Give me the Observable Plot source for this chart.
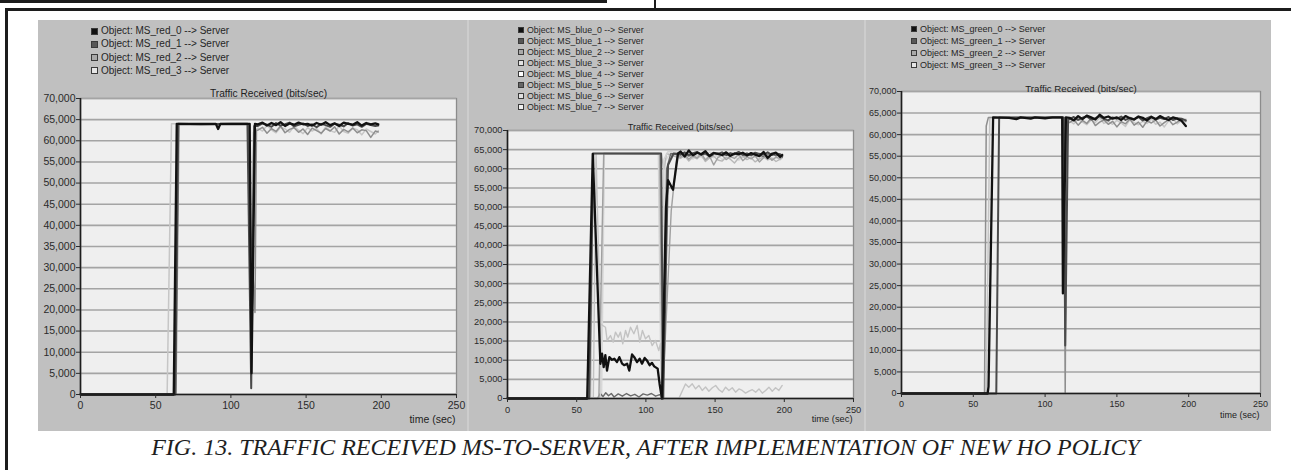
<!DOCTYPE html>
<html>
<head>
<meta charset="utf-8">
<script src="https://cdn.jsdelivr.net/npm/d3@7"></script>
<script src="https://cdn.jsdelivr.net/npm/@observablehq/plot@0.6"></script>
<style>
  body { margin: 0; background: #fff; }
  #page { position: relative; width: 1291px; height: 470px; overflow: hidden; background: #fff;
          font-family: "Liberation Sans", Arial, sans-serif; }
  .rule { position: absolute; background: #1c1c1c; }
  .strip { position: absolute; left: 38px; top: 20px; width: 1233px; height: 411px; background: #cdcdcd; }
  .panel { position: absolute; top: 20px; height: 411px; background: #c0c0c0; }
  .panel svg { display: block; overflow: visible; }
  .legend { position: absolute; color: #262626; white-space: nowrap; }
  .legend .row { position: absolute; left: 0; display: flex; align-items: center; }
  .legend .sw { display: inline-block; box-sizing: border-box; border: 1px solid #3a3a3a; }
  #caption { position: absolute; left: 0; top: 434px; width: 1291px; text-align: center;
             font-family: "Liberation Serif", "Times New Roman", serif; font-style: italic;
             font-size: 24px; color: #1e1e1e; }
</style>
</head>
<body>
<div id="page">
  <div class="rule" style="left:0;top:0;width:607px;height:3px"></div>
  <div class="rule" style="left:654px;top:0;width:2px;height:10px"></div>
  <div class="rule" style="left:5px;top:8px;width:1286px;height:2.5px"></div>
  <div class="rule" style="left:5px;top:8px;width:2.5px;height:462px"></div>
  <div class="strip"></div>
  <div id="caption">FIG. 13. TRAFFIC RECEIVED MS-TO-SERVER, AFTER IMPLEMENTATION OF NEW HO POLICY</div>
</div>
<script>
// ---- shared axis ticks ----
const timeTicks = [0, 50, 100, 150, 200, 250];
const rateTicks = [0, 5000, 10000, 15000, 20000, 25000, 30000, 35000, 40000, 45000, 50000, 55000, 60000, 65000, 70000];
const chartTitle = "Traffic Received (bits/sec)";
const timeLabel = "time (sec)";

// ---- red cell: MS_red_0..3 -> Server ----
const redNames = ["Object: MS_red_0 --> Server", "Object: MS_red_1 --> Server",
                  "Object: MS_red_2 --> Server", "Object: MS_red_3 --> Server"];
const red0Head = [[0,0],[62,0],[64,64000],[75,64000],[90,64000],[91.5,62800],[93,64000],[105,64000],[112.5,64000],[113.7,5000],[116,64000]];
const red1Head = [[0,0],[63,0],[65,64000],[80,63900],[100,64000],[111,64000],[113.5,1500],[115.5,63500]];
const red2Head = [[0,0],[63.5,0],[65.5,63800],[111.5,63800],[113,40000],[116,19400],[117,62500]];
const red3Head = [[0,0],[57.6,0],[60.5,64000],[112,64000],[113.5,30000],[115,62000]];
const redTailTime = [118,121,124,127,130,133,136,139,142,145,148,151,154,157,160,163,166,169,172,175,178,181,184,187,190,193,196,198];
const red0Tail = [63900,64300,63600,64200,63700,64400,63500,64100,63800,64300,63900,64000,63600,64200,63800,64400,63700,64100,63500,64300,64000,63800,64400,63600,64200,63900,64100,63900];
const red1Tail = [63500,64100,63800,63300,64200,63600,63900,64300,63400,63800,64100,63500,63900,63200,64000,63700,63300,64100,63800,63400,64200,63600,63900,63300,64000,63700,63500,63600];
const red2Tail = [62500,63200,61800,62900,62200,63500,61900,62700,63100,62000,62800,61500,63000,62400,61800,62900,62300,63300,61600,62700,62100,63000,61900,62600,62400,60800,62300,62100];
const red3Tail = [63000,62300,63600,62600,61900,63200,62800,62000,63400,62500,61700,63100,62300,62900,61600,63300,62400,62000,63500,62200,61800,63000,62600,61400,62800,62200,61600,62400];

// ---- blue cell: MS_blue_0..7 -> Server ----
const blueNames = ["Object: MS_blue_0 --> Server", "Object: MS_blue_1 --> Server", "Object: MS_blue_2 --> Server",
                   "Object: MS_blue_3 --> Server", "Object: MS_blue_4 --> Server", "Object: MS_blue_5 --> Server",
                   "Object: MS_blue_6 --> Server", "Object: MS_blue_7 --> Server"];
const blue0Head = [[0,0],[57.6,0],[61.6,63900],[67.1,9060],[68.3,11700],[69.5,8200],[70.7,11300],[71.9,7300],[73.6,10800],[75.5,10100],[77.2,10400],[79.1,9500],[80.8,10800],[82.8,9100],[84.4,8700],[86.4,9100],[88,7300],[90,11500],[91.6,10800],[93.6,9500],[95.5,10400],[97.2,9100],[99.1,10600],[100.8,9900],[102.7,8700],[104.4,9300],[106,8400],[108.5,7800],[109.9,3800],[111.6,0],[114.5,50000],[116,57000],[119.6,54500],[123.2,64000]];
const blue1Head = [[0,0],[59,0],[62,64000],[111,64000],[112.5,0],[116,61000],[120,64000]];
const blue2Head = [[0,0],[66,0],[69.5,64000],[110,63800],[112,0],[118.3,49000],[122.5,63600]];
const blue3Head = [[0,0],[62,0],[64,64000],[67,19500],[70.8,18600],[72,15150],[74.4,16450],[76.4,14710],[78,17330],[80,16020],[81.6,17330],[83.3,14280],[85.3,17760],[86.9,16020],[88.9,18600],[91.3,16900],[93.7,19070],[95.6,14710],[97.5,17760],[99.7,15580],[102.1,16450],[104.5,13840],[106.9,15150],[109.3,12540],[110.5,14280],[112.9,0]];
const blue4Head = [[0,0],[67,0],[70,64200],[109,64200],[111,0],[113,62500],[116,64500]];
const blue5Head = [[0,0],[65,0],[67,1300],[69,500],[71,1500],[73,700],[75,1300],[77,400],[80,1200],[83,600],[86,1300],[89,700],[92,1100],[95,400],[98,1200],[101,900],[104,1300],[107,600],[110,1000],[112,0],[115,60000],[118,64000]];
const blue6Head = [[0,0],[60,0],[62,64000],[111,64000],[113,60000],[115,64000]];
const blue7Head = [[0,0],[68,0],[70,64000],[110,64000],[112,0],[114,62000],[117,63800]];
const blueTailTime = [125,128,131,134,137,140,143,146,149,152,155,158,161,164,167,170,173,176,179,182,185,188,191,194,197,198.5];
const blue0Tail = [64500,63200,64800,63500,64200,63800,64600,63300,64100,63900,63600,64300,63400,64000,63800,64200,63500,64100,63700,63300,64400,62800,63900,64200,63100,63600];
const blue1Tail = [63800,64300,63600,64100,64400,63700,64000,63500,64200,63900,64300,63600,64100,63800,64400,63700,64000,63500,64200,63900,63700,64300,63600,64000,63800,63300];
const blue2Tail = [63000,63900,62500,63500,62800,64000,62300,63300,61000,62900,63600,62400,63200,62700,63800,62100,63100,62600,63400,61800,62900,63500,62200,63000,62700,63300];
const blue4Tail = [64200,63500,64600,63800,63300,64100,63600,64400,63900,63200,63800,64300,63500,64000,63300,63900,64200,63600,63000,63800,64100,63400,63700,64300,63500,63900];
const blue5Tail = [63600,64000,63300,63800,64200,63500,63900,63100,63700,64100,63400,63800,63200,63900,64100,63500,63300,63800,64000,63600,63200,63700,64000,63400,63600,63000];
const blue6Tail = [62700,63400,62000,63100,62600,63600,61900,62800,63300,62300,62000,63000,62500,61500,62800,63200,62400,62900,61800,62600,63100,62300,62800,61900,62500,62900];
const blue7Tail = [63300,62800,63900,62500,63600,63000,62600,63500,62900,63700,62400,63200,62800,63500,62200,63000,63600,62700,63300,62500,62800,63400,62600,63100,62300,62800];
// MS_blue_3 keeps a low rate after the handover
const blue3LowTime = [123.8,128.6,131,133.5,135.9,138.3,140.7,143.1,145.5,148,150.4,152.8,155.2,157.6,160,162.4,164.8,167.2,169.6,172,174.5,176.9,179.3,181.7,184.1,186.5,188.9,191.3,193.7,196.1,198.5];
const blue3Low = [0,3800,2960,3830,2530,3400,2100,3000,1900,2800,3400,2300,1650,2960,2100,2800,1650,2500,2100,1400,1900,2300,1650,2500,1400,2100,2960,1900,2800,2100,3400];

// ---- green cell: MS_green_0..3 -> Server ----
const greenNames = ["Object: MS_green_0 --> Server", "Object: MS_green_1 --> Server",
                    "Object: MS_green_2 --> Server", "Object: MS_green_3 --> Server"];
const green0Head = [[0,0],[60,0],[60.6,1600],[63.8,64000],[75,63900],[80,63600],[83,64000],[90,63700],[93,64000],[100,63800],[105,64000],[111.9,64000],[112.4,23200],[114.5,64000]];
const green1Head = [[0,0],[66,0],[68,64000],[113,64000],[114,11100],[116,63500]];
const green2Head = [[0,0],[57.8,0],[59,62000],[60.5,64000],[113,64000],[114,0],[115,63000]];
const green3Head = [[0,0],[59,0],[61.5,64000],[112,64000],[112.8,50000],[115,64000]];
const greenTailTime = [117,120,123,126,129,132,135,138,141,144,147,150,153,156,159,162,165,168,171,174,177,180,183,186,189,192,195,198];
const green0Tail = [63900,63300,64300,63600,64400,64000,63500,64600,63900,64200,63700,64000,63400,64300,63800,63500,64200,63900,63300,64100,63600,64300,63800,63400,64000,63700,63200,62000];
const green1Tail = [63600,64100,63400,63900,64200,63500,63800,64300,63600,63300,64000,63700,64200,63400,63900,63600,64100,63300,63800,64200,63500,63900,63600,64100,63400,63800,63700,63300];
const green2Tail = [62800,63500,62200,63300,62600,63800,62100,62900,63400,62400,63100,61800,63000,62500,63600,62200,62900,61700,63200,62700,63400,62000,62800,63500,62300,62900,63600,63000];
const green3Tail = [63200,62500,63700,62900,62300,63400,62800,63900,62600,63100,62400,63300,62700,61900,63500,62800,62300,63100,62600,63700,62400,62900,61800,63200,63800,62500,63300,63600];

// join a head segment with a sampled tail
const join = (head, times, values) => head.concat(times.map((t, i) => [t, values[i]]));

// line / swatch styling per legend entry
const styles4 = [
  {line: "#111111", width: 2.3, swatch: "#111111"},
  {line: "#4a4a4a", width: 2.0, swatch: "#575757"},
  {line: "#8e8e8e", width: 1.5, swatch: "#a9a9a9"},
  {line: "#c6c6c6", width: 1.5, swatch: "#e6e6e6"}
];
const styles8 = [
  {line: "#111111", width: 2.3, swatch: "#111111"},
  {line: "#4a4a4a", width: 2.0, swatch: "#555555"},
  {line: "#a0a0a0", width: 1.4, swatch: "#a9a9a9"},
  {line: "#c3c3c3", width: 1.4, swatch: "#e3e3e3"},
  {line: "#d2d2d2", width: 1.4, swatch: "#ffffff"},
  {line: "#6a6a6a", width: 1.4, swatch: "#666666"},
  {line: "#b8b8b8", width: 1.4, swatch: "#e0e0e0"},
  {line: "#d8d8d8", width: 1.4, swatch: "#f0f0f0"}
];

const panels = [
  {
    left: 38, width: 429, ml: 42, mr: 11, mt: 78, mb: 37,
    tickFont: 10.5, titleFont: 10.2, titleDy: -9, timeDy: 28,
    legend: {x: 53, y: 31, step: 13.3, font: 10, sw: 7, gap: 3},
    names: redNames, styles: styles4,
    points: [join(red0Head, redTailTime, red0Tail), join(red1Head, redTailTime, red1Tail),
             join(red2Head, redTailTime, red2Tail), join(red3Head, redTailTime, red3Tail)]
  },
  {
    left: 469, width: 395, ml: 38, mr: 11, mt: 110, mb: 33,
    tickFont: 9.3, titleFont: 9.2, titleDy: -7, timeDy: 23,
    legend: {x: 49, y: 30, step: 11, font: 8.8, sw: 6, gap: 3},
    names: blueNames, styles: styles8,
    points: [join(blue0Head, blueTailTime, blue0Tail), join(blue1Head, blueTailTime, blue1Tail),
             join(blue2Head, blueTailTime, blue2Tail), join(blue3Head, blue3LowTime, blue3Low),
             join(blue4Head, blueTailTime, blue4Tail), join(blue5Head, blueTailTime, blue5Tail),
             join(blue6Head, blueTailTime, blue6Tail), join(blue7Head, blueTailTime, blue7Tail)]
  },
  {
    left: 866, width: 405, ml: 35, mr: 11, mt: 71, mb: 38,
    tickFont: 9, titleFont: 9.7, titleDy: -6, timeDy: 24,
    legend: {x: 45, y: 29.5, step: 12, font: 9, sw: 6, gap: 3},
    names: greenNames, styles: styles4,
    points: [join(green0Head, greenTailTime, green0Tail), join(green1Head, greenTailTime, green1Tail),
             join(green2Head, greenTailTime, green2Tail), join(green3Head, greenTailTime, green3Tail)]
  }
];

const page = document.getElementById("page");

for (const p of panels) {
  const box = document.createElement("div");
  box.className = "panel";
  box.style.left = p.left + "px";
  box.style.width = p.width + "px";

  // draw lightest series first so the dark ones stay on top
  const order = p.points.map((_, i) => i).reverse();
  const lines = order.map(i => Plot.line(p.points[i], {
    x: d => d[0], y: d => d[1], stroke: p.styles[i].line, strokeWidth: p.styles[i].width,
    strokeLinejoin: "round"
  }));

  const chart = Plot.plot({
    width: p.width, height: 411,
    marginLeft: p.ml, marginRight: p.mr, marginTop: p.mt, marginBottom: p.mb,
    style: {background: "transparent", fontFamily: "'Liberation Sans', Arial, sans-serif", color: "#2a2a2a"},
    x: {domain: [0, 250]},
    y: {domain: [0, 70000]},
    marks: [
      Plot.frame({fill: "#efefef", stroke: "#8c8c8c", strokeWidth: 1.3}),
      Plot.gridY(rateTicks, {stroke: "#a4a4a4", strokeOpacity: 1, strokeWidth: 1.6}),
      ...lines,
      Plot.ruleY([0], {stroke: "#1e1e1e", strokeWidth: 1.6}),
      Plot.ruleX([0], {stroke: "#1e1e1e", strokeWidth: 1.6}),
      Plot.axisY({ticks: rateTicks, tickFormat: d3.format(","), tickSize: 4, tickPadding: 1,
                  fontSize: p.tickFont, label: null, color: "#2a2a2a"}),
      Plot.axisX({ticks: timeTicks, tickSize: 4, tickPadding: 3.5,
                  fontSize: p.tickFont, label: null, color: "#2a2a2a"}),
      Plot.text([chartTitle], {text: d => d, frameAnchor: "top", dy: p.titleDy,
                               fontSize: p.titleFont, fill: "#222"}),
      Plot.text([timeLabel], {text: d => d, frameAnchor: "bottom-right", textAnchor: "end",
                              dx: -1, dy: p.timeDy, fontSize: p.tickFont, fill: "#222"})
    ]
  });
  box.appendChild(chart);

  // series legend in the upper margin
  const lg = document.createElement("div");
  lg.className = "legend";
  lg.style.left = p.legend.x + "px";
  lg.style.top = "0px";
  lg.style.fontSize = p.legend.font + "px";
  p.names.forEach((name, i) => {
    const row = document.createElement("div");
    row.className = "row";
    row.style.top = (p.legend.y - 20 - p.legend.font * 0.6) + i * p.legend.step + "px";
    row.style.lineHeight = (p.legend.font * 1.2) + "px";
    const sw = document.createElement("span");
    sw.className = "sw";
    sw.style.width = p.legend.sw + "px";
    sw.style.height = p.legend.sw + "px";
    sw.style.marginRight = p.legend.gap + "px";
    sw.style.background = p.styles[i].swatch;
    const tx = document.createElement("span");
    tx.textContent = name;
    row.appendChild(sw);
    row.appendChild(tx);
    lg.appendChild(row);
  });
  box.appendChild(lg);

  page.appendChild(box);
}
</script>
</body>
</html>
